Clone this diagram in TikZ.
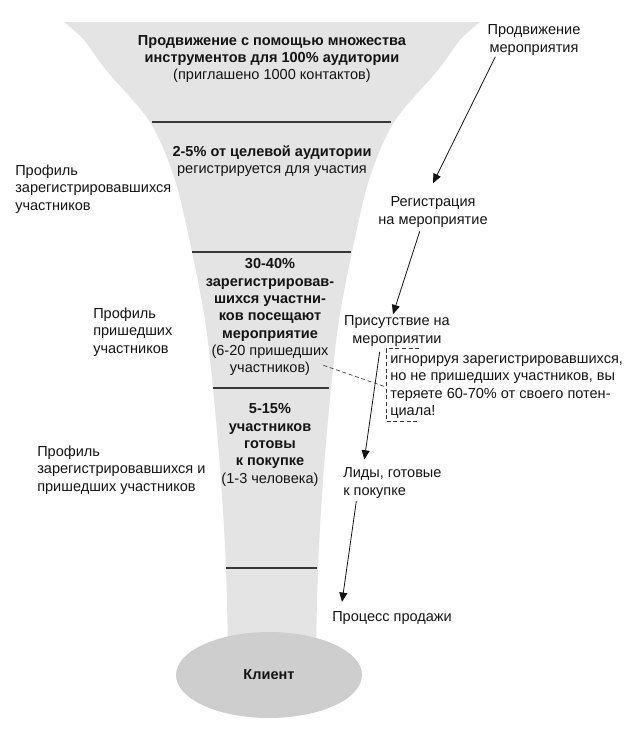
\documentclass[tikz,border=0pt]{standalone}
\usepackage{fontspec}
\setmainfont{Liberation Sans}
\usetikzlibrary{arrows.meta, positioning, calc, shapes.geometric}
\definecolor{funnelgrey}{RGB}{228, 228, 228}
\definecolor{clientgrey}{RGB}{206, 206, 206}
\definecolor{rulegrey}{RGB}{55, 55, 55}
\definecolor{inkblack}{RGB}{20, 20, 20}
\tikzset{
  >=Triangle,
  steparrow/.style={-{Triangle[length=7pt, width=6pt]}, line width=0.6pt, inkblack},
  leaderline/.style={dash pattern=on 3pt off 2pt, line width=0.5pt, rulegrey},
  stageline/.style={line width=0.9pt, rulegrey}
}

\begin{document}
\begin{tikzpicture}[x=0.75pt, y=-0.75pt,
    stagetext/.style={align=center, inner sep=0pt, font=\fontsize{10.9}{13}\selectfont, text=inkblack},
    sidetext/.style={align=left, inner sep=0pt, font=\fontsize{10.9}{13}\selectfont, text=inkblack},
    steptext/.style={align=center, inner sep=0pt, font=\fontsize{10.9}{13}\selectfont, text=inkblack}]

    \useasboundingbox (0,0) rectangle (633,729);

    % Levels of the stage borders
    \def\yA{122}
    \def\yB{252}
    \def\yC{388}
    \def\yD{568}

    % Funnel body
    \fill[funnelgrey] plot[smooth] coordinates {(64,22) (84,40) (106,70) (150,122) (175,180) (192,252) (205,320) (213,388) (221,480) (226,568) (228,650)}
        -- plot[smooth] coordinates {(316,650) (318,568) (323,480) (331,388) (339,320) (352,252) (369,180) (394,122) (438,70) (460,40) (480,22)}
        -- cycle;

    % Stage borders
    \draw[stageline] (152,\yA) -- (391,\yA);
    \draw[stageline] (192,\yB) -- (351,\yB);
    \draw[stageline] (213,\yC) -- (329,\yC);
    \draw[stageline] (226,\yD) -- (317,\yD);

    % Client
    \node[ellipse, fill=clientgrey, minimum width=139.5pt, minimum height=64.5pt, inner sep=0pt,
          font=\fontsize{10.9}{13}\selectfont\bfseries, text=inkblack] (client) at (269,675) {Клиент};

    % Stages
    \node[stagetext] (s1) at (272,59) {\textbf{Продвижение с помощью множества}\\\textbf{инструментов для 100\% аудитории}\\(приглашено 1000 контактов)};
    \node[stagetext] (s2) at (272,161) {\textbf{2-5\% от целевой аудитории}\\регистрируется для участия};
    \node[stagetext] (s3) at (270,300) {\textbf{30-40\%}\\\textbf{зарегистрировав-}\\\textbf{шихся участни-}\\\textbf{ков посещают}\\\textbf{мероприятие}};
    \node[stagetext] (s3n) at (270,360) {(6-20 пришедших\\участников)};
    \node[stagetext] (s4) at (270,445) {\textbf{5-15\%}\\\textbf{участников}\\\textbf{готовы}\\\textbf{к покупке}\\(1-3 человека)};

    % Profiles on the left
    \node[sidetext, anchor=west] (prof1) at (15,189) {Профиль\\зарегистрировавшихся\\участников};
    \node[sidetext, anchor=west] (prof2) at (93,332) {Профиль\\пришедших\\участников};
    \node[sidetext, anchor=west] (prof3) at (37,470) {Профиль\\зарегистрировавшихся и\\пришедших участников};

    % Steps on the right
    \node[steptext] (promo) at (534,40) {Продвижение\\мероприятия};
    \node[steptext] (reg) at (433,212) {Регистрация\\на мероприятие};
    \node[steptext] (attend) at (397,331) {Присутствие на\\мероприятии};
    \node[sidetext, anchor=west] (leads) at (343,483) {Лиды, готовые\\к покупке};
    \node[sidetext, anchor=west] (sale) at (332,618) {Процесс продажи};
    \node[sidetext, anchor=west] (note) at (390,387) {игнорируя зарегистрировавшихся,\\но не пришедших участников, вы\\теряете 60-70\% от своего потен-\\циала!};

    % Step arrows
    \draw[steparrow] ([xshift=-29pt,yshift=-1pt]promo.south) -- ([yshift=10pt]reg.north);
    \draw[steparrow] ([xshift=-10pt,yshift=-3pt]reg.south) -- ([xshift=-3pt,yshift=1pt]attend.north);
    \draw[steparrow] ([xshift=-13pt,yshift=-4pt]attend.south) -- ([xshift=16pt,yshift=6pt]leads.north west);
    \draw[steparrow] ([xshift=10pt,yshift=-2pt]leads.south west) -- ([xshift=7.5pt,yshift=7pt]sale.north west);

    % Note bracket and leader
    \draw[leaderline] ([xshift=22pt,yshift=5pt]note.north west) -- ([xshift=-3pt,yshift=5pt]note.north west)
        -- ([xshift=-3pt,yshift=-2pt]note.south west) -- ([xshift=22pt,yshift=-2pt]note.south west);
    \draw[leaderline] ([xshift=-4pt,yshift=-4pt]s3n.east) -- ([xshift=-3pt]note.west);

\end{tikzpicture}
\end{document}
